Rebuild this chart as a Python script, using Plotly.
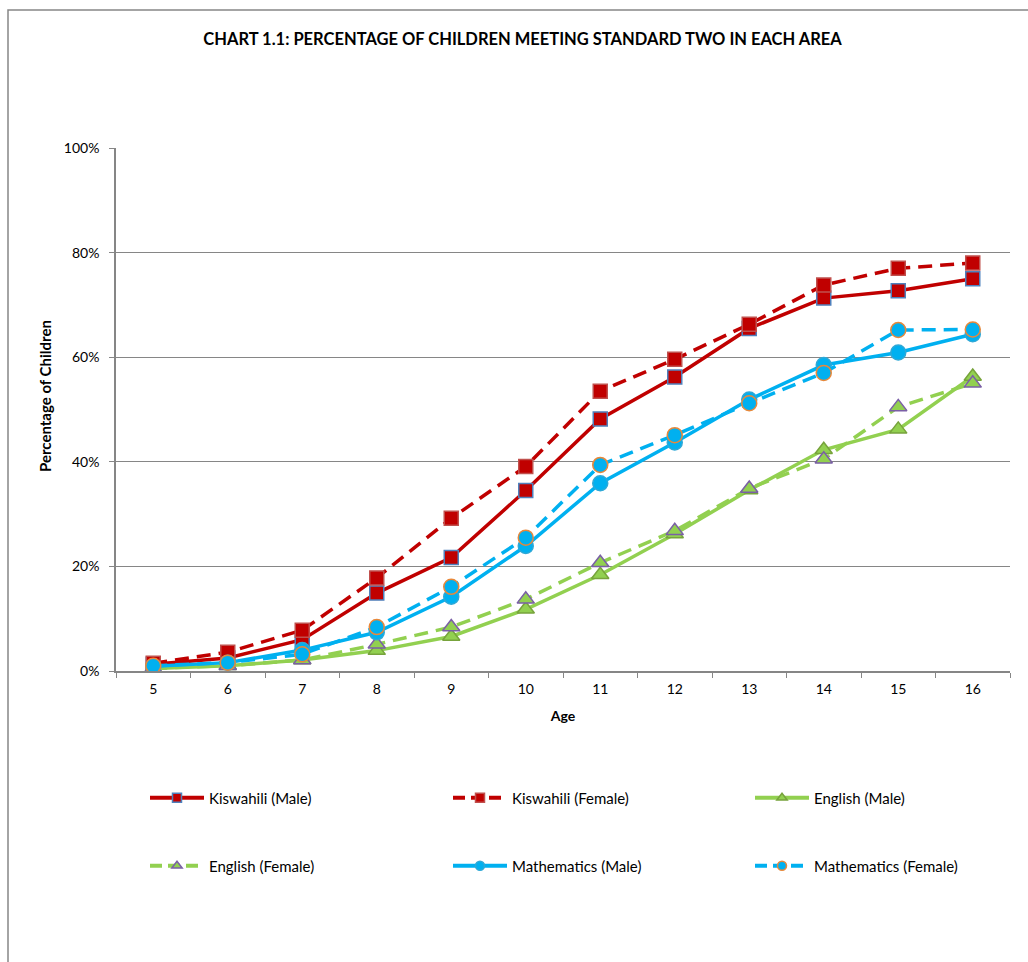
import plotly.graph_objects as go

# Ages on the category axis
ages = ["5", "6", "7", "8", "9", "10", "11", "12", "13", "14", "15", "16"]

# Percentage of children meeting Standard Two, by area and sex
kiswahili_male = [1.3, 2.5, 6.0, 14.9, 21.7, 34.5, 48.2, 56.2, 65.5, 71.3, 72.7, 75.0]
kiswahili_female = [1.5, 3.6, 7.8, 17.8, 29.2, 39.1, 53.5, 59.6, 66.3, 73.8, 77.0, 78.0]
english_male = [0.5, 1.0, 2.1, 3.9, 6.6, 11.8, 18.4, 26.2, 34.6, 42.3, 46.2, 56.3]
english_female = [0.5, 1.0, 2.1, 5.1, 8.4, 13.7, 20.7, 26.8, 34.9, 40.5, 50.5, 55.0]
maths_male = [0.9, 1.6, 4.0, 7.4, 14.2, 23.9, 35.9, 43.7, 51.9, 58.5, 60.9, 64.4]
maths_female = [1.0, 1.6, 3.2, 8.4, 16.1, 25.5, 39.4, 45.1, 51.2, 57.0, 65.2, 65.3]

y_ticks = [0, 20, 40, 60, 80, 100]
y_tick_text = ["0%", "20%", "40%", "60%", "80%", "100%"]

RED = "#C00000"
GREEN = "#92D050"
BLUE = "#00B0F0"
GREY = "#868686"
FONT = "Lato, Carlito, Calibri, sans-serif"

# plot area in pixels
L, R, T, B = 116, 1010, 148, 671
PW, PH = R - L, B - T


def px_x(px):
    return (px - L) / PW


def px_y(py):
    return (B - py) / PH


series = [
    # name, values, colour, dashed, symbol, marker edge, chart size, legend slot (col, row)
    ("Kiswahili (Male)", kiswahili_male, RED, False, "square", "#4F81BD", 14, (0, 0)),
    ("Kiswahili (Female)", kiswahili_female, RED, True, "square", "#C0504D", 14, (1, 0)),
    ("English (Male)", english_male, GREEN, False, "triangle-up", "#77A33C", 15, (2, 0)),
    ("English (Female)", english_female, GREEN, True, "triangle-up", "#7A5FA6", 15, (0, 1)),
    ("Mathematics (Male)", maths_male, BLUE, False, "circle", "#2FA8D6", 15, (1, 1)),
    ("Mathematics (Female)", maths_female, BLUE, True, "circle", "#E8883A", 15, (2, 1)),
]

legend_cols = [150, 453, 755]
legend_rows = [798, 866]

fig = go.Figure()
legend_layouts = {}
for i, (name, vals, col, dashed, sym, edge, size, (c, r)) in enumerate(series):
    line = dict(color=col, width=3.5, dash="14px,8px" if dashed else "solid")
    fig.add_trace(go.Scatter(
        x=ages, y=vals, name=name, mode="lines+markers", line=line,
        marker=dict(symbol=sym, size=size, color=col, line=dict(color=edge, width=1.5)),
        showlegend=False,
    ))
    key = "legend" if i == 0 else f"legend{i + 1}"
    # legend sample with a smaller marker
    fig.add_trace(go.Scatter(
        x=[None], y=[None], name=name, mode="lines+markers",
        line=dict(color=col, width=4, dash="12px,6px" if dashed else "solid"),
        marker=dict(symbol=sym, size=9, color=col, line=dict(color=edge, width=1.5)),
        legend=key, showlegend=True,
    ))
    legend_layouts[key] = dict(
        x=px_x(legend_cols[c] - 5), y=px_y(legend_rows[r]),
        xanchor="left", yanchor="middle", orientation="h",
        font=dict(family=FONT, size=15, color="#000000"),
        bgcolor="rgba(0,0,0,0)", itemwidth=54,
    )

fig.update_layout(
    width=1028, height=962,
    margin=dict(l=L, r=1028 - R, t=T, b=962 - B),
    paper_bgcolor="white", plot_bgcolor="white",
    font=dict(family=FONT, size=13, color="#000000"),
    title=dict(
        text="<b>CHART 1.1: PERCENTAGE OF CHILDREN MEETING STANDARD TWO IN EACH AREA</b>",
        x=(200 + 845) / 2 / 1028, xref="container", xanchor="center",
        y=1 - 39 / 962, yanchor="middle",
        font=dict(family=FONT, size=16.5, color="#000000"),
    ),
    xaxis=dict(
        type="category", categoryorder="array", categoryarray=ages,
        range=[-0.5, len(ages) - 0.5],
        showline=True, linecolor=GREY, linewidth=1.5,
        ticks="outside", tickson="boundaries", ticklen=5, tickcolor=GREY,
        ticklabelstandoff=4,
        showgrid=False, zeroline=False,
        tickfont=dict(family=FONT, size=14),
        title=dict(text="<b>Age</b>", font=dict(family=FONT, size=14), standoff=16),
    ),
    yaxis=dict(
        range=[0, 100], tickvals=y_ticks, ticktext=y_tick_text,
        showline=True, linecolor=GREY, linewidth=1.5,
        ticks="outside", ticklen=5, tickcolor=GREY,
        ticklabelstandoff=7,
        showgrid=True, gridcolor=GREY, gridwidth=1,
        zeroline=False,
        tickfont=dict(family=FONT, size=14),
    ),
    annotations=[
        dict(text="<b>Percentage of Children</b>", textangle=-90,
             xref="paper", yref="paper", x=px_x(45), y=px_y(396),
             xanchor="center", yanchor="middle", showarrow=False,
             font=dict(family=FONT, size=15, color="#000000")),
    ],
    shapes=[
        # outer chart frame
        dict(type="rect", xref="paper", yref="paper",
             x0=px_x(8), x1=1.1, y0=-0.7, y1=px_y(10),
             line=dict(color=GREY, width=1.5), fillcolor="rgba(0,0,0,0)", layer="below"),
    ],
    **legend_layouts,
)

fig.write_html("out.html")
